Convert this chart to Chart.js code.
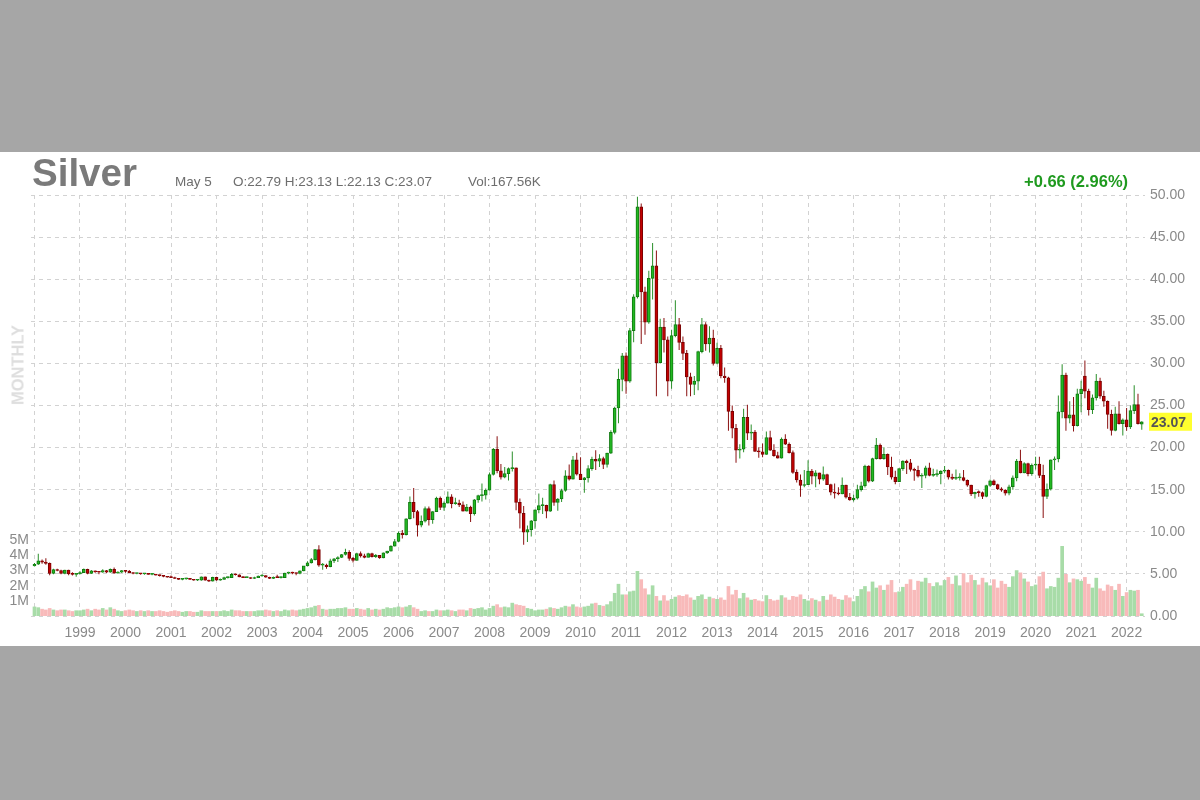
<!DOCTYPE html>
<html>
<head>
<meta charset="utf-8">
<title>Silver monthly</title>
<script src="https://cdn.jsdelivr.net/npm/chart.js"></script>
<style>
  body { margin: 0; width: 1200px; height: 800px; overflow: hidden; background: #a6a6a6;
         font-family: "Liberation Sans", Arial, sans-serif; }
  #panel { position: absolute; left: 0; top: 152px; width: 1200px; height: 494px; background: #fff; }
  #myChart { position: absolute; left: 0; top: 0; }
  .hdr { position: absolute; white-space: nowrap; color: #6e6e6e; }
  #name { left: 32px; top: 2px; font-size: 38.5px; font-weight: bold; color: #7a7a7a; line-height: 38px; }
  .info { top: 22px; font-size: 13.5px; line-height: 16px; }
  #change { left: 1024px; top: 20px; font-size: 16.5px; font-weight: bold; color: #1f9a1f; line-height: 18px; }
  #period { left: 18px; top: 213px; transform: translate(-50%, -50%) rotate(-90deg); font-size: 16.5px;
            font-weight: bold; color: #dedede; }
</style>
</head>
<body>
<div id="panel">
  <canvas id="myChart" width="1200" height="494"></canvas>
  <div class="hdr" id="name">Silver</div>
  <div class="hdr info" style="left:175px">May 5</div>
  <div class="hdr info" style="left:233px">O:22.79 H:23.13 L:22.13 C:23.07</div>
  <div class="hdr info" style="left:468px">Vol:167.56K</div>
  <div class="hdr" id="change">+0.66 (2.96%)</div>
  <div class="hdr" id="period">MONTHLY</div>
</div>
<script>
// monthly candles, Jan 1998 .. May 2022 (one line per year)
var years = [1998,1999,2000,2001,2002,2003,2004,2005,2006,2007,2008,2009,2010,
             2011,2012,2013,2014,2015,2016,2017,2018,2019,2020,2021,2022];

var open = [
  5.95,6.15,6.55,6.40,6.25,5.05,5.50,5.40,5.05,5.45,5.00,4.95,
  5.00,5.15,5.55,5.05,5.35,5.25,5.20,5.40,5.20,5.55,5.10,5.20,
  5.40,5.30,5.15,5.05,5.05,5.00,5.05,4.95,4.95,4.85,4.80,4.70,
  4.60,4.55,4.45,4.35,4.40,4.45,4.35,4.25,4.25,4.65,4.25,4.15,
  4.60,4.25,4.35,4.55,4.55,4.95,4.90,4.65,4.55,4.55,4.45,4.55,
  4.75,4.80,4.60,4.45,4.60,4.55,4.55,5.10,5.15,5.10,5.05,5.35,
  5.95,6.30,6.70,7.90,6.05,6.05,5.85,6.55,6.80,6.95,7.30,7.55,
  6.85,6.60,7.40,7.15,6.95,7.40,7.05,7.20,6.90,7.50,7.70,8.30,
  8.85,9.85,9.65,11.55,13.50,12.40,10.80,11.25,12.75,11.45,12.40,14.00,
  12.90,13.40,14.15,13.35,13.40,13.20,12.45,12.95,12.15,13.80,14.30,14.35,
  14.95,16.80,19.80,17.25,16.50,16.90,17.50,17.60,13.50,12.20,9.95,10.25,
  11.30,12.60,13.10,13.15,12.45,15.60,13.50,13.90,14.90,16.65,16.25,18.55,
  16.85,16.20,16.40,17.50,18.60,18.40,18.70,18.00,19.35,21.80,24.70,28.10,
  30.90,27.90,33.90,37.90,48.60,38.50,34.90,40.10,41.60,30.10,34.30,32.80,
  27.90,33.30,34.60,32.50,31.20,28.40,27.50,27.90,31.40,34.60,32.30,33.00,
  30.00,31.80,28.50,28.30,24.30,22.30,19.70,19.80,23.60,21.70,21.85,19.55,
  19.50,19.20,21.20,19.70,19.05,18.75,21.00,20.40,19.40,17.05,16.15,15.50,
  15.60,17.20,16.60,17.00,16.25,16.80,15.60,14.70,14.60,14.50,15.55,14.10,
  13.80,14.00,15.00,15.45,17.80,16.00,18.70,20.30,18.70,19.20,17.70,16.50,
  15.95,17.50,18.40,18.20,17.40,17.30,16.60,16.70,17.60,16.70,16.75,16.90,
  17.20,17.30,16.50,16.35,16.40,16.45,16.10,15.55,14.50,14.70,14.65,14.20,
  15.50,16.05,15.60,15.10,14.95,14.60,15.35,16.40,18.40,17.00,18.10,16.90,
  17.90,18.05,16.70,14.20,15.05,18.55,18.65,24.25,28.60,23.50,23.90,22.60,
  26.40,28.50,26.70,24.50,25.90,27.90,26.10,25.50,23.95,22.05,24.00,22.85,
  23.30,22.45,24.40,25.10,22.79
];
var high = [
  6.30,7.40,6.70,6.85,6.35,5.60,5.60,5.50,5.50,5.50,5.20,5.10,
  5.30,5.65,5.60,5.45,5.40,5.30,5.55,5.45,5.65,5.75,5.30,5.45,
  5.45,5.45,5.20,5.15,5.10,5.10,5.10,5.05,5.00,4.90,4.85,4.75,
  4.80,4.65,4.50,4.45,4.55,4.50,4.40,4.35,4.70,4.70,4.30,4.65,
  4.65,4.45,4.65,4.65,5.10,5.05,4.95,4.70,4.65,4.60,4.65,4.80,
  4.95,4.85,4.65,4.70,4.90,4.65,5.15,5.25,5.25,5.15,5.40,5.95,
  6.50,6.90,7.95,8.40,6.30,6.20,6.80,6.90,7.10,7.35,8.00,7.80,
  7.00,7.50,7.65,7.40,7.50,7.50,7.35,7.25,7.55,7.75,8.40,9.15,
  10.05,10.20,11.60,14.20,15.20,12.60,11.95,13.00,13.00,12.45,14.15,14.20,
  13.60,14.80,14.45,14.05,13.80,13.60,13.30,13.10,13.90,14.40,15.75,15.15,
  17.05,19.95,21.35,18.05,17.70,17.65,19.55,17.65,13.95,13.05,10.75,11.40,
  12.65,14.55,14.05,13.20,15.70,16.10,14.00,15.10,17.30,18.00,19.00,19.40,
  18.85,16.50,17.90,18.90,19.70,19.20,18.90,19.40,22.05,24.85,29.35,31.25,
  31.30,34.20,38.20,49.80,49.00,39.10,41.00,44.30,43.40,35.30,35.40,33.20,
  34.00,37.50,35.40,33.20,31.60,28.90,28.50,31.50,35.40,34.90,34.40,34.00,
  32.45,32.20,29.50,28.40,25.00,22.80,20.40,24.60,25.10,22.75,22.10,20.05,
  20.50,21.90,22.00,20.40,19.50,21.20,21.60,20.60,19.65,17.40,16.80,17.35,
  18.50,17.45,17.30,17.00,17.75,16.90,15.70,15.75,15.30,16.45,15.60,14.60,
  14.40,15.60,15.95,17.95,17.90,18.80,21.15,20.50,20.05,19.30,18.90,17.25,
  17.55,18.50,18.55,18.65,17.60,17.85,16.95,17.85,18.20,17.50,17.40,17.30,
  17.80,17.40,16.90,17.40,16.95,17.35,16.20,15.60,14.75,14.90,14.80,15.60,
  16.20,16.20,15.70,15.30,15.05,15.60,16.70,18.65,19.75,18.25,18.20,18.10,
  18.90,18.90,17.95,15.75,18.60,18.95,26.20,29.90,28.90,25.50,26.00,27.00,
  27.95,30.35,27.00,26.30,28.75,28.30,26.75,25.60,24.50,24.85,25.50,23.45,
  24.70,25.00,27.40,26.40,23.13
];
var low = [
  5.90,6.05,6.20,6.10,4.85,4.95,5.30,4.95,4.95,4.85,4.80,4.65,
  4.95,5.10,4.95,5.00,5.15,4.95,5.15,5.10,5.15,5.05,5.05,5.10,
  5.15,5.10,4.95,4.95,4.90,4.90,4.90,4.85,4.80,4.70,4.60,4.55,
  4.50,4.40,4.30,4.25,4.30,4.30,4.20,4.15,4.20,4.20,4.05,4.10,
  4.20,4.20,4.30,4.45,4.50,4.80,4.60,4.50,4.50,4.40,4.40,4.50,
  4.65,4.55,4.40,4.40,4.50,4.45,4.50,4.95,4.95,4.85,4.95,5.30,
  5.90,6.25,6.60,5.85,5.50,5.60,5.80,6.30,6.40,6.90,7.20,6.55,
  6.35,6.55,6.95,6.85,6.95,6.95,6.90,6.80,6.85,7.35,7.65,8.25,
  8.80,9.20,9.55,11.45,11.60,9.45,10.55,11.10,10.75,10.95,12.35,12.60,
  12.50,13.35,12.80,13.20,12.95,12.40,12.40,11.15,11.95,13.45,13.60,13.85,
  14.90,16.70,16.95,16.20,16.35,16.10,17.15,12.55,10.40,8.45,8.80,9.45,
  10.35,12.20,12.10,11.60,12.35,13.10,12.50,13.55,14.75,16.10,16.20,16.70,
  16.15,14.65,15.85,17.25,17.35,17.70,17.45,17.65,19.25,21.60,22.90,26.70,
  26.40,27.70,32.50,37.70,32.30,33.40,34.70,37.60,26.10,30.00,31.30,26.10,
  27.00,33.10,31.60,30.40,26.10,26.10,26.25,26.80,31.20,31.50,31.30,29.75,
  29.90,28.25,27.70,22.00,21.10,18.20,18.70,19.45,20.90,20.90,19.50,18.80,
  18.85,19.15,19.60,18.90,18.70,18.70,20.30,19.30,16.90,15.85,14.15,15.30,
  15.60,15.65,15.30,15.65,16.05,15.55,14.35,13.95,14.35,14.45,13.95,13.70,
  13.60,13.85,14.80,15.25,15.85,15.90,18.60,18.60,18.55,16.75,16.20,15.65,
  15.90,17.25,16.85,17.15,16.05,16.45,15.20,16.35,16.60,16.55,16.55,15.65,
  16.95,16.20,16.15,16.15,16.10,16.00,15.35,14.25,13.95,14.15,13.90,14.10,
  15.35,15.50,14.95,14.75,14.30,14.35,15.00,16.00,16.95,16.95,16.60,16.65,
  17.40,16.40,11.65,13.90,14.90,17.35,18.25,23.50,22.00,22.90,21.90,22.50,
  24.20,25.85,23.80,24.00,25.60,25.80,24.85,22.25,21.45,21.95,22.75,21.45,
  22.00,22.20,24.00,22.75,22.13
];
var close = [
  6.15,6.55,6.40,6.25,5.05,5.50,5.40,5.05,5.45,5.00,4.95,5.00,
  5.15,5.55,5.05,5.35,5.25,5.20,5.40,5.20,5.55,5.10,5.20,5.40,
  5.30,5.15,5.05,5.05,5.00,5.05,4.95,4.95,4.85,4.80,4.70,4.60,
  4.55,4.45,4.35,4.40,4.45,4.35,4.25,4.25,4.65,4.25,4.15,4.60,
  4.25,4.35,4.55,4.55,4.95,4.90,4.65,4.55,4.55,4.45,4.55,4.75,
  4.80,4.60,4.45,4.60,4.55,4.55,5.10,5.15,5.10,5.05,5.35,5.95,
  6.30,6.70,7.90,6.05,6.05,5.85,6.55,6.80,6.95,7.30,7.55,6.85,
  6.60,7.40,7.15,6.95,7.40,7.05,7.20,6.90,7.50,7.70,8.30,8.85,
  9.85,9.65,11.55,13.50,12.40,10.80,11.25,12.75,11.45,12.40,14.00,12.90,
  13.40,14.15,13.35,13.40,13.20,12.45,12.95,12.15,13.80,14.30,14.35,14.95,
  16.80,19.80,17.25,16.50,16.90,17.50,17.60,13.50,12.20,9.95,10.25,11.30,
  12.60,13.10,13.15,12.45,15.60,13.50,13.90,14.90,16.65,16.25,18.55,16.85,
  16.20,16.40,17.50,18.60,18.40,18.70,18.00,19.35,21.80,24.70,28.10,30.90,
  27.90,33.90,37.90,48.60,38.50,34.90,40.10,41.60,30.10,34.30,32.80,27.90,
  33.30,34.60,32.50,31.20,28.40,27.50,27.90,31.40,34.60,32.30,33.00,30.00,
  31.80,28.50,28.30,24.30,22.30,19.70,19.80,23.60,21.70,21.85,19.55,19.50,
  19.20,21.20,19.70,19.05,18.75,21.00,20.40,19.40,17.05,16.15,15.50,15.60,
  17.20,16.60,17.00,16.25,16.80,15.60,14.70,14.60,14.50,15.55,14.10,13.80,
  14.00,15.00,15.45,17.80,16.00,18.70,20.30,18.70,19.20,17.70,16.50,15.95,
  17.50,18.40,18.20,17.40,17.30,16.60,16.70,17.60,16.70,16.75,16.90,17.20,
  17.30,16.50,16.35,16.40,16.45,16.10,15.55,14.50,14.70,14.65,14.20,15.50,
  16.05,15.60,15.10,14.95,14.60,15.35,16.40,18.40,17.00,18.10,16.90,17.90,
  18.05,16.70,14.20,15.05,18.55,18.65,24.25,28.60,23.50,23.90,22.60,26.40,
  26.95,26.70,24.50,25.90,27.90,26.10,25.50,23.95,22.05,24.00,22.85,23.30,
  22.45,24.40,25.10,22.85,23.07
];
// volume in millions of contracts
var volume = [
  0.60,0.55,0.45,0.40,0.50,0.40,0.35,0.40,0.40,0.35,0.30,0.35,
  0.35,0.40,0.45,0.35,0.45,0.40,0.50,0.40,0.55,0.45,0.35,0.30,
  0.35,0.40,0.35,0.30,0.35,0.30,0.35,0.30,0.30,0.35,0.30,0.25,
  0.30,0.35,0.30,0.25,0.30,0.30,0.25,0.25,0.35,0.30,0.30,0.30,
  0.30,0.30,0.35,0.30,0.40,0.35,0.35,0.30,0.30,0.30,0.30,0.35,
  0.35,0.40,0.35,0.30,0.35,0.30,0.40,0.35,0.40,0.35,0.40,0.45,
  0.50,0.55,0.65,0.70,0.45,0.40,0.45,0.45,0.50,0.50,0.55,0.45,
  0.45,0.50,0.45,0.40,0.50,0.40,0.45,0.40,0.45,0.55,0.50,0.55,
  0.60,0.55,0.60,0.70,0.55,0.45,0.30,0.35,0.30,0.30,0.40,0.35,
  0.35,0.40,0.35,0.30,0.40,0.40,0.35,0.50,0.45,0.50,0.55,0.40,
  0.50,0.65,0.75,0.55,0.60,0.55,0.85,0.75,0.70,0.65,0.50,0.45,
  0.35,0.40,0.40,0.45,0.55,0.50,0.45,0.55,0.65,0.60,0.75,0.60,
  0.55,0.60,0.65,0.80,0.85,0.70,0.65,0.75,0.95,1.50,2.10,1.40,
  1.40,1.60,1.65,2.95,2.40,1.80,1.40,2.00,1.30,1.00,1.35,1.00,
  1.10,1.25,1.35,1.30,1.40,1.20,1.05,1.30,1.40,1.10,1.25,1.15,
  1.10,1.20,1.05,1.95,1.40,1.70,1.15,1.50,1.20,1.05,1.10,1.00,
  0.95,1.35,1.10,1.00,1.05,1.35,1.20,1.05,1.30,1.25,1.40,1.10,
  1.00,1.15,1.05,0.95,1.30,1.05,1.40,1.25,1.10,1.05,1.35,1.20,
  0.95,1.30,1.75,1.95,1.60,2.25,1.85,2.00,1.70,2.05,2.35,1.55,
  1.60,1.90,2.10,2.40,1.70,2.30,2.25,2.50,2.15,1.95,2.20,2.00,
  2.35,2.55,2.10,2.65,2.00,2.80,2.20,2.70,2.35,2.05,2.50,2.20,
  2.00,2.40,1.85,2.30,2.10,1.90,2.60,3.00,2.85,2.45,2.25,1.95,
  2.05,2.60,2.90,1.80,1.95,1.90,2.50,4.60,2.75,2.20,2.45,2.40,
  2.30,2.55,2.10,1.85,2.50,1.80,1.65,2.05,1.95,1.70,2.10,1.30,
  1.55,1.70,1.65,1.70,0.15
];

var priceTicks = [0,5,10,15,20,25,30,35,40,45,50];
var volTicks = [1,2,3,4,5];

var FONT = '"Liberation Sans", Arial, sans-serif';
Chart.defaults.font.family = FONT;

var wicks = [], bodies = [], vols = [];
var wickColors = [], bodyColors = [], bodyBorders = [], volColors = [];
for (let i = 0; i < close.length; i++) {
  let up = close[i] >= open[i];
  wicks.push({x: i, y: [low[i], high[i]]});
  bodies.push({x: i, y: [open[i], close[i]]});
  vols.push({x: i, y: volume[i]});
  wickColors.push(up ? '#2a8f2a' : '#8a1010');
  bodyColors.push(up ? '#22b822' : '#c20000');
  bodyBorders.push(up ? '#107a10' : '#7a0000');
  volColors.push(up ? '#a8dca8' : '#f8baba');
}

// yellow tag with the last close on the price axis
var lastTag = {
  id: 'lastTag',
  afterDraw: function(chart) {
    var c = chart.ctx;
    var v = close[close.length - 1];
    var y = chart.scales.y.getPixelForValue(v);
    var x = chart.chartArea.right + 4;
    c.save();
    c.fillStyle = '#ffff2e';
    c.fillRect(x, y - 9, 43, 18);
    c.fillStyle = '#555';
    c.font = 'bold 14px ' + FONT;
    c.textBaseline = 'middle';
    c.fillText(v.toFixed(2), x + 2, y + 1);
    c.restore();
  }
};

var gridDash = [4, 4];

var chart = new Chart(document.getElementById('myChart').getContext('2d'), {
  type: 'bar',
  data: {
    datasets: [
      { label: 'Volume', data: vols, yAxisID: 'yVol', backgroundColor: volColors,
        barThickness: 3, grouped: false, order: 3 },
      { label: 'Wick', data: wicks, yAxisID: 'y', backgroundColor: wickColors,
        barThickness: 1, grouped: false, order: 2, inflateAmount: 0 },
      { label: 'Body', data: bodies, yAxisID: 'y', backgroundColor: bodyColors,
        borderColor: bodyBorders, borderWidth: 1, borderSkipped: false,
        barThickness: 3, minBarLength: 1, grouped: false, order: 1 }
    ]
  },
  options: {
    responsive: false,
    animation: false,
    layout: { padding: { top: 43, left: 0, right: 0, bottom: 0 } },
    plugins: { legend: { display: false }, tooltip: { enabled: false } },
    scales: {
      x: {
        type: 'linear',
        min: -0.92,
        max: 292.85,
        offset: false,
        afterFit: function(s) { s.height = 30; },
        afterBuildTicks: function(s) {
          s.ticks = years.map(function(y, k) { return {value: k * 12}; });
        },
        ticks: {
          autoSkip: false, maxRotation: 0, padding: 9,
          color: '#8a8a8a', font: { size: 14 },
          callback: function(v) { return v === 0 ? '' : String(years[v / 12]); }
        },
        grid: { color: '#d2d2d2', drawTicks: false, offset: false },
        border: { display: false, dash: gridDash }
      },
      y: {
        position: 'right',
        min: 0, max: 50,
        afterFit: function(s) { s.width = 55; },
        afterBuildTicks: function(s) {
          s.ticks = priceTicks.map(function(v) { return {value: v}; });
        },
        ticks: {
          padding: 5, color: '#8a8a8a', font: { size: 14 },
          callback: function(v) { return v.toFixed(2); }
        },
        grid: { color: '#d2d2d2', drawTicks: false },
        border: { display: false, dash: gridDash }
      },
      yVol: {
        position: 'left',
        min: 0, max: 27.8,
        afterFit: function(s) { s.width = 31; },
        afterBuildTicks: function(s) {
          s.ticks = volTicks.map(function(v) { return {value: v}; });
        },
        ticks: {
          padding: 2, color: '#8a8a8a', font: { size: 14 },
          callback: function(v) { return v + 'M'; }
        },
        grid: { display: false, drawTicks: false },
        border: { display: false }
      }
    }
  },
  plugins: [lastTag]
});
</script>
</body>
</html>
